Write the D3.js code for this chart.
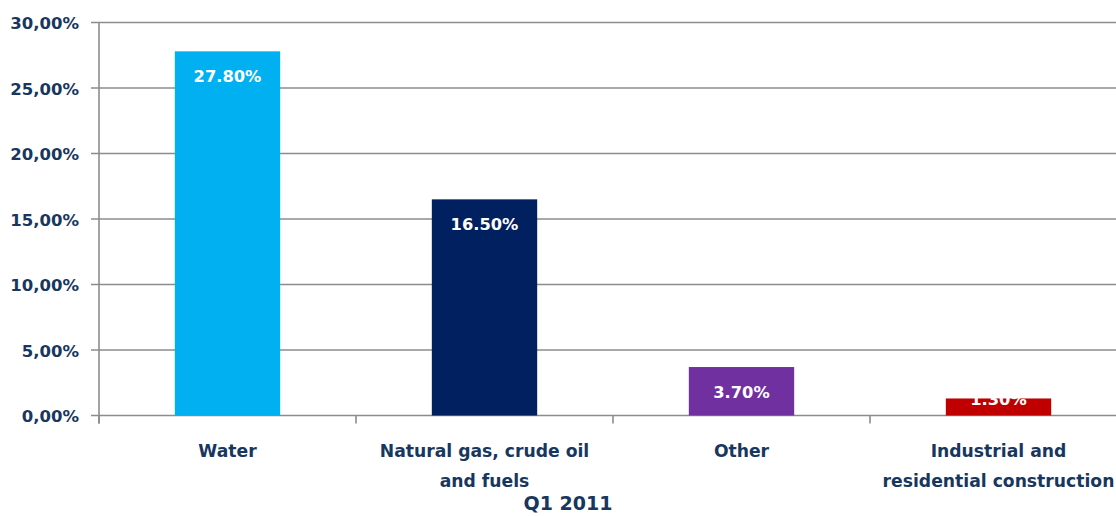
<!DOCTYPE html>
<html>
<head>
<meta charset="utf-8">
<script src="https://cdn.jsdelivr.net/npm/d3@7"></script>
<style>
  html, body { margin: 0; padding: 0; background: #ffffff; }
  svg { display: block; }
  text { font-family: "DejaVu Sans", sans-serif; font-weight: bold; }
</style>
</head>
<body>
<svg id="chart" width="1116" height="516"></svg>
<script>
// Sector shares, Q1 2011
const categories = ["Water", "Natural gas, crude oil\nand fuels", "Other", "Industrial and\nresidential construction"];
const values = [27.8, 16.5, 3.7, 1.3];
const barColors = ["#00B0F0", "#002060", "#7030A0", "#C00000"];
const yTicks = [0, 5, 10, 15, 20, 25, 30];
const title = "Q1 2011";

const textColor = "#17375E";
const gridColor = "#8C8C8C";

const svg = d3.select("#chart");

const plotLeft = 99, step = 257;
const x = d3.scaleBand()
  .domain(categories)
  .range([plotLeft, plotLeft + step * categories.length])
  .paddingInner(0.59)
  .paddingOuter(0.295);

const y = d3.scaleLinear().domain([0, 30]).range([415.5, 22.5]);

// horizontal gridlines with left tick marks
svg.append("g").selectAll("line")
  .data(yTicks)
  .join("line")
  .attr("x1", plotLeft - 8)
  .attr("x2", 1116)
  .attr("y1", d => y(d))
  .attr("y2", d => y(d))
  .attr("stroke", gridColor)
  .attr("stroke-width", 1.6);

// y tick labels
const fmt = d => d3.format(".2f")(d).replace(".", ",") + "%";
svg.append("g").selectAll("text")
  .data(yTicks)
  .join("text")
  .attr("x", 79)
  .attr("y", d => y(d) + 6.5)
  .attr("text-anchor", "end")
  .attr("font-size", 16.5)
  .attr("fill", textColor)
  .text(fmt);

// category boundary ticks on the x axis
const bounds = d3.range(categories.length + 1).map(i => plotLeft + i * x.step());
svg.append("g").selectAll("line")
  .data(bounds)
  .join("line")
  .attr("x1", d => d).attr("x2", d => d)
  .attr("y1", y(0)).attr("y2", y(0) + 8)
  .attr("stroke", gridColor)
  .attr("stroke-width", 1.6);

// y axis line
svg.append("line")
  .attr("x1", plotLeft).attr("x2", plotLeft)
  .attr("y1", y(30)).attr("y2", y(0) + 8)
  .attr("stroke", gridColor)
  .attr("stroke-width", 1.6);

// bars
svg.append("g").selectAll("rect")
  .data(values)
  .join("rect")
  .attr("x", (d, i) => x(categories[i]))
  .attr("width", x.bandwidth())
  .attr("y", d => y(d))
  .attr("height", d => y(0) - y(d))
  .attr("fill", (d, i) => barColors[i]);

// value labels inside the bar ends
svg.append("g").selectAll("text")
  .data(values)
  .join("text")
  .attr("x", (d, i) => x(categories[i]) + x.bandwidth() / 2)
  .attr("y", d => (y(0) - y(d) < 35) ? y(d) + 6.5 : y(d) + 31)
  .attr("text-anchor", "middle")
  .attr("font-size", 16.3)
  .attr("fill", "#ffffff")
  .text(d => d3.format(".2f")(d) + "%");

// category labels
const catG = svg.append("g").selectAll("text")
  .data(categories)
  .join("text")
  .attr("x", d => x(d) + x.bandwidth() / 2)
  .attr("y", 457)
  .attr("text-anchor", "middle")
  .attr("font-size", 17.2)
  .attr("fill", textColor);
catG.selectAll("tspan")
  .data(d => d.split("\n"))
  .join("tspan")
  .attr("x", function () { return d3.select(this.parentNode).attr("x"); })
  .attr("dy", (d, i) => i === 0 ? 0 : 30)
  .text(d => d);

// axis title
svg.append("text")
  .attr("x", 568)
  .attr("y", 510)
  .attr("text-anchor", "middle")
  .attr("font-size", 19)
  .attr("fill", textColor)
  .text(title);
</script>
</body>
</html>
